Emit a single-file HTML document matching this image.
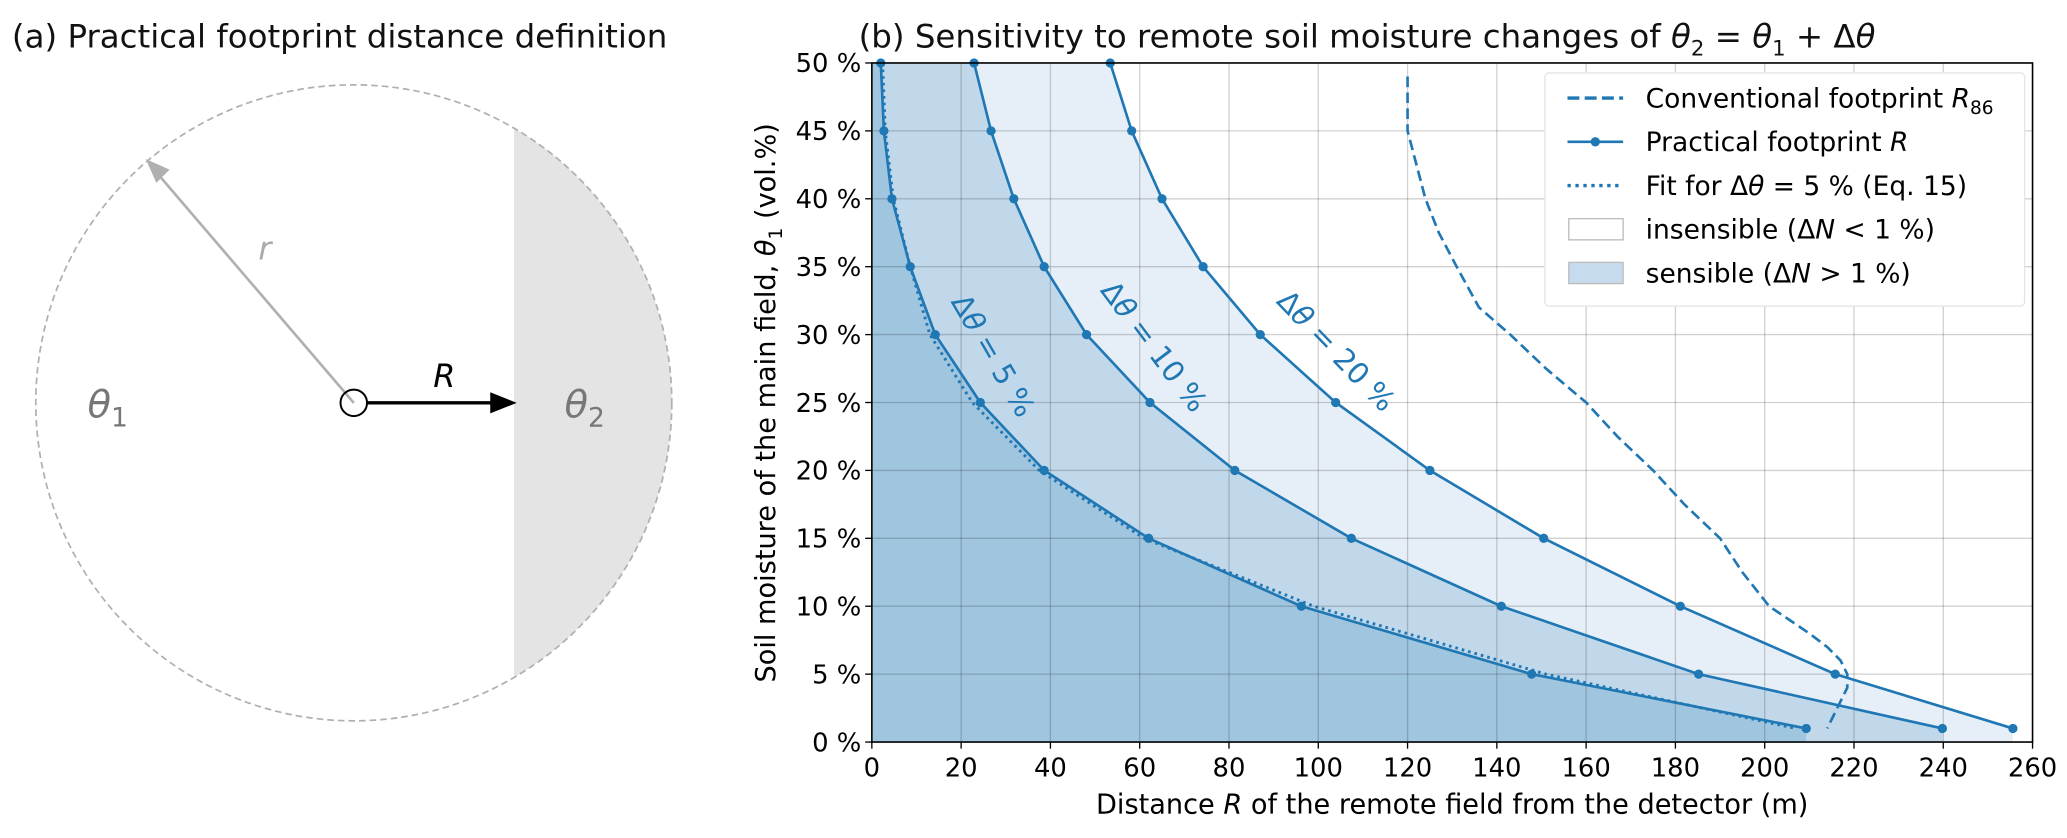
<!DOCTYPE html>
<html><head><meta charset="utf-8"><style>
html,body{margin:0;padding:0;background:#fff}
svg{display:block;font-family:"DejaVu Sans","Liberation Sans",sans-serif}
</style></head><body>
<svg id="fig" width="2067" height="838" viewBox="0 0 1560 632.4">
<g>
 <text x="9" y="36" font-size="24.5" fill="#111">(a) Practical footprint distance definition</text>
 <defs><clipPath id="cc"><circle cx="267" cy="304" r="240"/></clipPath></defs>
 <rect x="388" y="60" width="200" height="500" fill="#e4e4e4" clip-path="url(#cc)"/>
 <circle cx="267" cy="304" r="240" fill="none" stroke="#b0b0b0" stroke-width="1.3" stroke-dasharray="5,3"/>
 <line x1="267" y1="304" x2="118" y2="130" stroke="#b0b0b0" stroke-width="2"/>
 <polygon points="110,120 128,128 118,138" fill="#b0b0b0"/>
 <text x="195" y="196" font-size="24" font-style="italic" fill="#aaa">r</text>
 <line x1="277" y1="304" x2="372" y2="304" stroke="#000" stroke-width="2.5"/>
 <polygon points="390,304 370,296 370,312" fill="#000"/>
 <circle cx="267" cy="304" r="10" fill="none" stroke="#000" stroke-width="1.5"/>
 <text x="327" y="292" font-size="24" font-style="italic">R</text>
 <text x="66" y="315" font-size="29" fill="#777"><tspan font-style="italic">θ</tspan><tspan font-size="20" dy="7">1</tspan></text>
 <text x="426" y="315" font-size="29" fill="#777"><tspan font-style="italic">θ</tspan><tspan font-size="20" dy="7">2</tspan></text>
</g>
<g id="pb"></g>
</svg>
<script>
const yLevels=[50,45,40,35,30,25,20,15,10,5,1];
const r5=[2,2.7,4.5,8.6,14.2,24.3,38.6,62,96.2,147.8,209.3];
const r10=[22.9,26.7,31.8,38.6,48.1,62.3,81.3,107.4,141,185.2,239.8];
const r20=[53.4,58.2,65,74.2,87,103.9,125,150.5,181.1,215.8,255.6];
const fitY=[50,45,40,35,30,25,20,15,10,5,1];
const fitX=[2.4,3,4.8,8.6,13,22.5,37.5,61,99,151,207];
const convY=[49,45,42.5,40,37.5,35,32,30,27.5,25,22.5,20,17.5,15,12.5,10,8,7,6,5,4,3,2,1];
const convX=[120,120,122,124,127,131,136,143,151,160,167,175,182,190,195,201,210,214,217,218.5,218.5,217,215.5,214];
const xTicks=[0,20,40,60,80,100,120,140,160,180,200,220,240,260];
const yTicks=[0,5,10,15,20,25,30,35,40,45,50];
const X0=658,X1=1534,Y0=560,Y1=47.5;
const sx=v=>X0+(X1-X0)*v/260, sy=v=>Y0-(Y0-Y1)*v/50;
const NS='http://www.w3.org/2000/svg', g=document.getElementById('pb');
function mk(t,a,p){const e=document.createElementNS(NS,t);for(const k in a)e.setAttribute(k,a[k]);(p||g).appendChild(e);return e;}
const C='#1f77b4';
const ttl=mk('text',{x:648,y:36,'font-size':24.5,fill:'#111'});
ttl.innerHTML='(b) Sensitivity to remote soil moisture changes of <tspan font-style="italic">θ</tspan><tspan font-size="16" dy="6">2</tspan><tspan dy="-6"> = </tspan><tspan font-style="italic">θ</tspan><tspan font-size="16" dy="6">1</tspan><tspan dy="-6"> + Δ</tspan><tspan font-style="italic">θ</tspan>';


function area(xs,fill,name){
 let p=[[sx(0),sy(0)],[sx(xs[xs.length-1]),sy(0)]];
 for(let i=xs.length-1;i>=0;i--)p.push([sx(xs[i]),sy(yLevels[i])]);
 p.push([sx(0),sy(50)]);
 const e=mk('polygon',{points:p.map(q=>q.join(',')).join(' '),fill:fill});
 
 
}
area(r20,'#e6eff7','area-dtheta-20');
area(r10,'#c1d8eb','area-dtheta-10');
area(r5,'#a0c5df','area-dtheta-5');
xTicks.forEach(v=>{const l=mk('line',{x1:sx(v),x2:sx(v),y1:Y1,y2:Y0,stroke:'rgba(0,0,0,0.18)','stroke-width':1});
 
 
 const tk=mk('line',{x1:sx(v),x2:sx(v),y1:Y0,y2:Y0+5,stroke:'#000'});
 
 
 const t=mk('text',{x:sx(v),y:Y0+26,'font-size':19.5,'text-anchor':'middle'});t.textContent=v;
 
 });
yTicks.forEach(v=>{const l=mk('line',{x1:X0,x2:X1,y1:sy(v),y2:sy(v),stroke:'rgba(0,0,0,0.18)','stroke-width':1});
 
 
 const tk=mk('line',{x1:X0-5,x2:X0,y1:sy(v),y2:sy(v),stroke:'#000'});
 
 
 const t=mk('text',{x:X0-8,y:sy(v)+7,'font-size':19.5,'text-anchor':'end'});t.textContent=v+' %';
 
 });
function line(xs,ys,attrs,name){const e=mk('polyline',Object.assign({points:xs.map((x,i)=>sx(x)+','+sy(ys[i])).join(' '),fill:'none',stroke:C},attrs));
 
 }
line(convX,convY,{'stroke-width':2,'stroke-dasharray':'8,4'},'conventional-footprint-line');
line(fitX,fitY,{'stroke-width':2.2,'stroke-dasharray':'2,3'},'fit-line');
[[r5,'5'],[r10,'10'],[r20,'20']].forEach(([xs,n])=>{line(xs,yLevels,{'stroke-width':2},'practical-footprint-'+n);
 xs.forEach((x,i)=>{const c=mk('circle',{cx:sx(x),cy:sy(yLevels[i]),r:3.5,fill:C});
 
 });});
[[743,272,60,'5'],[865,266,53,'10'],[1003,270,46,'20']].forEach(([x,y,a,n])=>{
 const t=mk('text',{x:x,y:y,'font-size':22,fill:C,'text-anchor':'middle',transform:`rotate(${a} ${x} ${y})`});
 t.innerHTML='Δ<tspan font-style="italic">θ</tspan> = '+n+' %';
 
 });
const fr=mk('rect',{x:X0,y:Y1,width:X1-X0,height:Y0-Y1,fill:'none',stroke:'#000','stroke-width':1.2});


const xl=mk('text',{x:(X0+X1)/2,y:614,'font-size':20.5,'text-anchor':'middle'});
xl.innerHTML='Distance <tspan font-style="italic">R</tspan> of the remote field from the detector (m)';


const yl=mk('text',{x:0,y:0,'font-size':20.5,'text-anchor':'middle',transform:'translate(585,304) rotate(-90)'});
yl.innerHTML='Soil moisture of the main field, <tspan font-style="italic">θ</tspan><tspan font-size="14" dy="5">1</tspan><tspan dy="-5"> (vol.%)</tspan>';


const lg=mk('g',{});


mk('rect',{x:1166,y:55,width:362,height:176,fill:'#fff',stroke:'#e4e4e4','stroke-width':1,rx:3},lg);
const items=[['dash','Conventional footprint <tspan font-style="italic">R</tspan><tspan font-size="14" dy="5">86</tspan>'],
 ['marker','Practical footprint <tspan font-style="italic">R</tspan>'],
 ['dot','Fit for Δ<tspan font-style="italic">θ</tspan> = 5 % (Eq. 15)'],
 ['box0','insensible (Δ<tspan font-style="italic">N</tspan> &lt; 1 %)'],
 ['box1','sensible (Δ<tspan font-style="italic">N</tspan> &gt; 1 %)']];
const ly=[74,107,140,173,206];
items.forEach(([k,txt],i)=>{const y=ly[i];
 if(k==='dash')mk('line',{x1:1183,x2:1225,y1:y,y2:y,stroke:C,'stroke-width':2.5,'stroke-dasharray':'9,4'},lg);
 if(k==='marker'){mk('line',{x1:1183,x2:1225,y1:y,y2:y,stroke:C,'stroke-width':2},lg);mk('circle',{cx:1204,cy:y,r:3.5,fill:C},lg);}
 if(k==='dot')mk('line',{x1:1183,x2:1225,y1:y,y2:y,stroke:C,'stroke-width':2.5,'stroke-dasharray':'2.5,3.5'},lg);
 if(k==='box0')mk('rect',{x:1184,y:y-8,width:41,height:16,fill:'#fff',stroke:'#bbb'},lg);
 if(k==='box1')mk('rect',{x:1184,y:y-8,width:41,height:16,fill:'#c6dbee',stroke:'#bbb'},lg);
 const t=mk('text',{x:1242,y:y+7,'font-size':20},lg);t.innerHTML=txt;
 
 });
</script>
</body></html>
